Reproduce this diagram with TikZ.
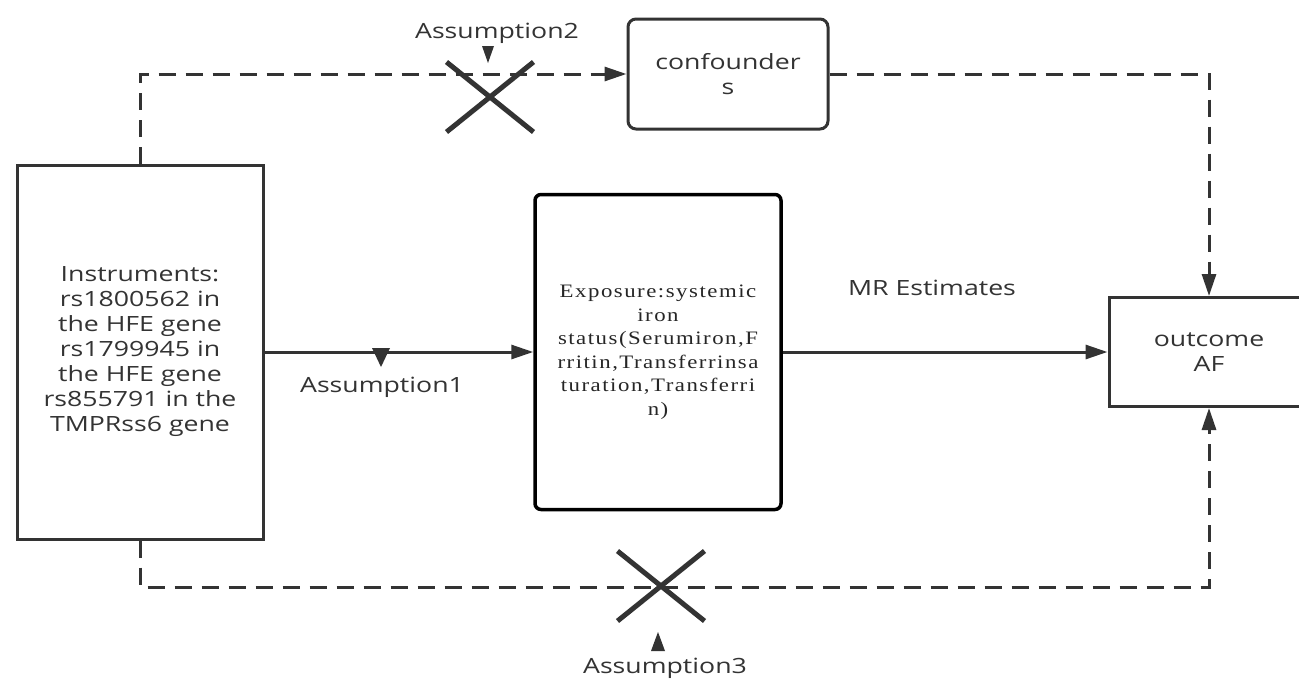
\documentclass[tikz,border=0pt]{standalone}
\usepackage{fontspec}
\setmainfont{Open Sans}[FakeStretch=1.27]
\newfontfamily\exfont{Liberation Serif}[FakeStretch=1.2,LetterSpace=8]
\usetikzlibrary{arrows.meta,shapes.misc}
\definecolor{ink}{HTML}{333333}
\newcommand{\fs}{\fontsize{21}{25}\selectfont}
\newcommand{\exf}{\exfont\fontsize{19}{23.5}\selectfont}
\begin{document}
\begin{tikzpicture}[x=1pt,y=-1pt,
  box/.style={draw=ink, line width=3pt, align=center, inner sep=0pt, text=ink, font=\fs},
  rbox/.style={box, rounded corners=8pt},
  lbl/.style={text=ink, font=\fs, inner sep=0pt},
  solidarr/.style={draw=ink, line width=3pt, -{Triangle[length=22pt,width=14pt]}},
  dasharr/.style={solidarr, dash pattern=on 17pt off 10pt},
  xmark/.style={cross out, draw=ink, line width=5pt, minimum width=82pt, minimum height=65pt, inner sep=0pt},
  marker/.style={fill=ink}
]
\useasboundingbox (0,0) rectangle (1299,680);
\clip (0,0) rectangle (1299,680);
\fill[white] (0,0) rectangle (1299,680);

\node[box, minimum width=246pt, minimum height=374pt] (ins) at (140,352)
  {Instruments:\\rs1800562 in\\the HFE gene\\rs1799945 in\\the HFE gene\\rs855791 in the\\TMPRss6 gene};
\node[box, draw=black, line width=3.5pt, rounded corners=6pt, minimum width=246pt, minimum height=315pt, font=\exf, text=black!85] (exp) at (658,352)
  {Exposure:systemic\\iron\\status(Serumiron,F\\rritin,Transferrinsa\\turation,Transferri\\n)};
\node[rbox, minimum width=200pt, minimum height=110pt] (conf) at (728,74) {confounder\\s};
\node[box, minimum width=200pt, minimum height=109pt] (out) at (1209,352) {outcome\\AF};

\node[lbl] (mr) at (932,288) {MR Estimates};
\node[lbl] (a1) at (382,387) {Assumption1};
\node[lbl] (a2) at (497,33) {Assumption2};
\node[lbl] (a3) at (665,668) {Assumption3};

\node[xmark] (x2) at (490,97) {};
\node[xmark] (x3) at (661,586) {};

\draw[dasharr] (ins.north) |- (conf.west);
\draw[dasharr] (conf.east) -| (out.north);
\coordinate (bl) at (140,587);
\draw[dasharr] (ins.south) -- (bl) -| (out.south);
\draw[solidarr] (ins.east) -- (exp.west);
\draw[solidarr] (exp.east) -- (out.west);

% small triangular markers
\fill[marker] (372,348) -- (390,348) -- (381,367) -- cycle;
\fill[marker] (482,46) -- (494,46) -- (488,63) -- cycle;
\fill[marker] (651,651) -- (665,651) -- (658,632) -- cycle;
\end{tikzpicture}
\end{document}
